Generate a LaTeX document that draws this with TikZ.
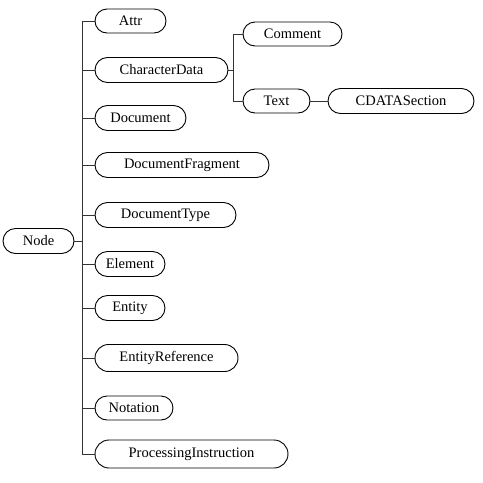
\documentclass[tikz,border=0pt]{standalone}
\usepackage{fontspec}
\setmainfont{Liberation Serif}
\usetikzlibrary{shapes.misc}
\begin{document}
\begin{tikzpicture}[x=1pt,y=-1pt,
  cls/.style={draw, rounded rectangle, line width=0.9pt, inner sep=0pt,
    minimum height=25pt, font=\fontsize{14.5}{17}\selectfont, text=black},
  wire/.style={line width=0.9pt, draw=black!80}]
\useasboundingbox (0,0) rectangle (483,483);
\node[cls, minimum width=71pt] (node) at (38.5,241) {Node};
\node[cls, minimum width=71pt, minimum height=24pt] (attr) at (130.5,21) {Attr};
\node[cls, minimum width=133pt] (chd) at (161.5,70) {CharacterData};
\node[cls, minimum width=99pt, minimum height=24pt] (comment) at (292.5,34) {Comment};
\node[cls, minimum width=67pt, minimum height=24pt] (text) at (276.5,101) {Text};
\node[cls, minimum width=146pt] (cdata) at (401,101) {CDATASection};
\node[cls, minimum width=91pt] (doc) at (140.5,118) {Document};
\node[cls, minimum width=174pt] (frag) at (182,165) {DocumentFragment};
\node[cls, minimum width=141pt] (dtype) at (165.5,215) {DocumentType};
\node[cls, minimum width=70pt] (elem) at (130,264) {Element};
\node[cls, minimum width=70pt] (ent) at (130,308) {Entity};
\node[cls, minimum width=143pt, minimum height=27pt] (eref) at (166.5,358) {EntityReference};
\node[cls, minimum width=78pt, minimum height=24pt] (nota) at (134,408) {Notation};
\node[cls, minimum width=193pt, minimum height=28pt] (pi) at (191.5,454) {ProcessingInstruction};
\coordinate (t) at (82,0);
\coordinate (b) at (233,0);
\draw[wire] (attr.west -| t) -- (pi.west -| t);
\draw[wire] (node.east) -- (node.east -| t);
\foreach \n in {attr,chd,doc,frag,dtype,elem,ent,eref,nota,pi}
  \draw[wire] (\n.west -| t) -- (\n.west);
\draw[wire] (comment.west -| b) -- (text.west -| b);
\draw[wire] (chd.east) -- (chd.east -| b);
\draw[wire] (comment.west -| b) -- (comment.west);
\draw[wire] (text.west -| b) -- (text.west);
\draw[wire] (text.east) -- (cdata.west);
\end{tikzpicture}
\end{document}
